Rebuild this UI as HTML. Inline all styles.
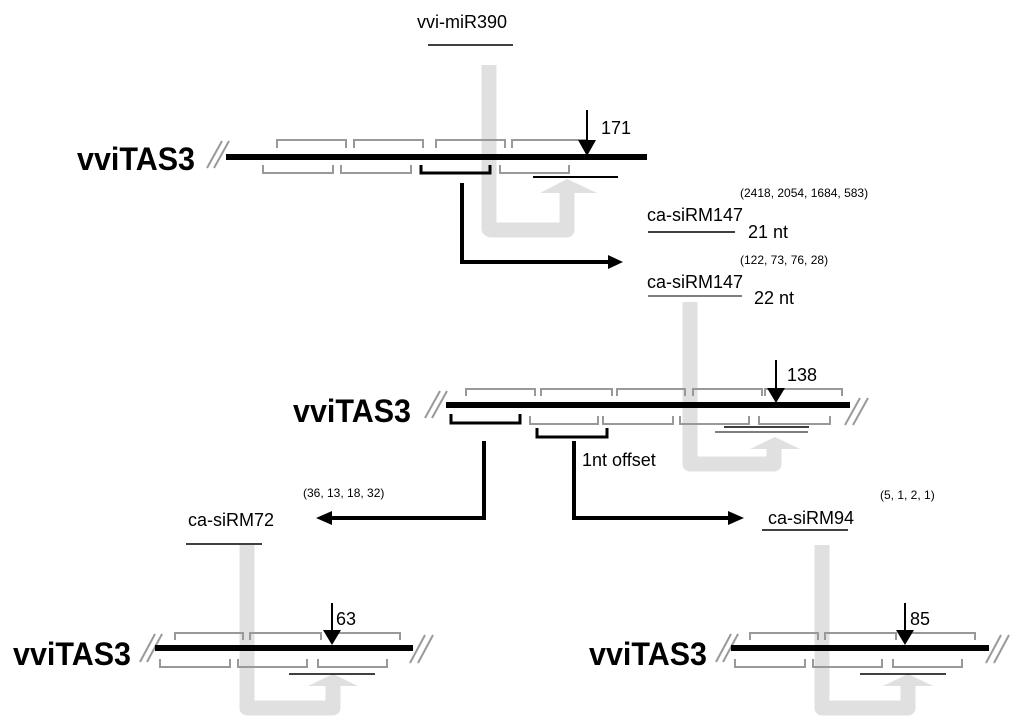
<!DOCTYPE html>
<html><head><meta charset="utf-8"><style>
html,body{margin:0;padding:0;background:#fff;}
svg{display:block;}
text{font-family:"Liberation Sans",sans-serif;fill:#000;}
</style></head><body>
<svg width="1024" height="728" viewBox="0 0 1024 728" xmlns="http://www.w3.org/2000/svg">
<defs>
<g id="dummy"></g>
</defs>
<!-- grey thick arrows -->
<g fill="none" stroke="#e0e0e0" stroke-width="15" stroke-linejoin="round">
<path d="M489 65 V228 Q489 230 492 230 H567 V190"/>
<path d="M690 302 V464 H774 V448"/>
<path d="M247 545 V708 H333 V685"/>
<path d="M822 545 V708 H908 V685"/>
</g>
<g fill="#e0e0e0">
<polygon points="540,193 597,193 567,179"/>
<polygon points="750,449 800,449 775,437"/>
<polygon points="308,686 358,686 333,674"/>
<polygon points="883,686 933,686 908,674"/>
</g>

<!-- TOP -->
<text x="77" y="170" font-size="32" font-weight="bold" textLength="118" lengthAdjust="spacingAndGlyphs">vviTAS3</text>
<g stroke="#999" stroke-width="2"><line x1="207" y1="168" x2="222" y2="141"/><line x1="214" y1="168" x2="229" y2="141"/></g>
<g fill="none" stroke="#999" stroke-width="2">
<path d="M277 148 V140 H346 V148"/><path d="M354 148 V140 H423 V148"/><path d="M436 148 V140 H505 V148"/><path d="M512 148 V140 H586 V148"/>
<path d="M263 165 V173 H333 V165"/><path d="M341 165 V173 H411 V165"/><path d="M500 165 V173 H569 V165"/>
</g>
<path d="M421 165 V173 H490 V165" fill="none" stroke="#000" stroke-width="3"/>
<line x1="226" y1="157" x2="647" y2="157" stroke="#000" stroke-width="6"/>
<line x1="587" y1="110" x2="587" y2="142" stroke="#000" stroke-width="2"/>
<polygon points="578,140 596,140 587,156" fill="#000"/>
<text x="601" y="134" font-size="18">171</text>
<line x1="533" y1="177" x2="618" y2="177" stroke="#000" stroke-width="2"/>
<text x="417" y="28" font-size="18">vvi-miR390</text>
<line x1="428" y1="45" x2="513" y2="45" stroke="#000" stroke-width="1.5"/>
<path d="M462 183 V262 H610" fill="none" stroke="#000" stroke-width="4"/>
<polygon points="608,255 623,262 608,269" fill="#000"/>

<text x="647" y="221" font-size="18">ca-siRM147</text>
<text x="740" y="197" font-size="12">(2418, 2054, 1684, 583)</text>
<line x1="648" y1="232" x2="735" y2="232" stroke="#000" stroke-width="1.5"/>
<text x="748" y="238" font-size="18">21 nt</text>
<text x="647" y="288" font-size="18">ca-siRM147</text>
<text x="740" y="264" font-size="12">(122, 73, 76, 28)</text>
<line x1="648" y1="296" x2="742" y2="296" stroke="#555" stroke-width="1.5"/>
<text x="754" y="304" font-size="18">22 nt</text>

<!-- MIDDLE -->
<text x="293" y="422" font-size="32" font-weight="bold" textLength="118" lengthAdjust="spacingAndGlyphs">vviTAS3</text>
<g stroke="#999" stroke-width="2">
<line x1="425" y1="418" x2="440" y2="391"/><line x1="432" y1="418" x2="447" y2="391"/>
<line x1="845" y1="425" x2="860" y2="398"/><line x1="853" y1="425" x2="868" y2="398"/>
</g>
<g fill="none" stroke="#999" stroke-width="2">
<path d="M466 396 V389 H535 V396"/><path d="M541 396 V389 H612 V396"/><path d="M617 396 V389 H685 V396"/><path d="M693 396 V389 H762 V396"/><path d="M765 396 V389 H842 V396"/>
<path d="M530 416 V424 H598 V416"/><path d="M603 416 V424 H673 V416"/><path d="M680 416 V424 H749 V416"/><path d="M759 416 V424 H830 V416"/>
</g>
<path d="M451 414 V423 H520 V414" fill="none" stroke="#000" stroke-width="3"/>
<path d="M537 428 V437 H607 V428" fill="none" stroke="#000" stroke-width="3"/>
<line x1="446" y1="405" x2="850" y2="405" stroke="#000" stroke-width="6"/>
<line x1="776" y1="360" x2="776" y2="390" stroke="#000" stroke-width="2"/>
<polygon points="767,388 785,388 776,403" fill="#000"/>
<text x="787" y="381" font-size="18">138</text>
<line x1="724" y1="427" x2="809" y2="427" stroke="#000" stroke-width="1.5"/>
<line x1="715" y1="432" x2="808" y2="432" stroke="#555" stroke-width="1.5"/>
<text x="582" y="466" font-size="18">1nt offset</text>
<path d="M484 441 V518 H330" fill="none" stroke="#000" stroke-width="4"/>
<polygon points="332,511 316,518 332,525" fill="#000"/>
<path d="M574 441 V518 H730" fill="none" stroke="#000" stroke-width="4"/>
<polygon points="728,511 744,518 728,525" fill="#000"/>

<text x="188" y="526" font-size="18">ca-siRM72</text>
<text x="303" y="497" font-size="12">(36, 13, 18, 32)</text>
<line x1="186" y1="544" x2="262" y2="544" stroke="#000" stroke-width="1.5"/>
<text x="768" y="524" font-size="18">ca-siRM94</text>
<text x="880" y="499" font-size="12">(5, 1, 2, 1)</text>
<line x1="762" y1="530" x2="848" y2="530" stroke="#000" stroke-width="1.5"/>

<!-- BOTTOM LEFT -->
<text x="13" y="665" font-size="32" font-weight="bold" textLength="118" lengthAdjust="spacingAndGlyphs">vviTAS3</text>
<g stroke="#999" stroke-width="2">
<line x1="140" y1="662" x2="155" y2="634"/><line x1="147" y1="662" x2="162" y2="634"/>
<line x1="410" y1="663" x2="425" y2="635"/><line x1="418" y1="663" x2="433" y2="635"/>
</g>
<g fill="none" stroke="#999" stroke-width="2">
<path d="M175 640 V633 H243 V640"/><path d="M250 640 V633 H321 V640"/><path d="M332 640 V633 H400 V640"/>
<path d="M160 659 V667 H230 V659"/><path d="M238 659 V667 H307 V659"/><path d="M318 659 V667 H387 V659"/>
</g>
<line x1="155" y1="648" x2="413" y2="648" stroke="#000" stroke-width="6"/>
<line x1="332" y1="603" x2="332" y2="632" stroke="#000" stroke-width="2"/>
<polygon points="323,630 341,630 332,645" fill="#000"/>
<text x="336" y="625" font-size="18">63</text>
<line x1="289" y1="674" x2="375" y2="674" stroke="#000" stroke-width="1.5"/>

<!-- BOTTOM RIGHT -->
<text x="589" y="665" font-size="32" font-weight="bold" textLength="118" lengthAdjust="spacingAndGlyphs">vviTAS3</text>
<g stroke="#999" stroke-width="2">
<line x1="716" y1="662" x2="731" y2="634"/><line x1="723" y1="662" x2="738" y2="634"/>
<line x1="986" y1="663" x2="1001" y2="635"/><line x1="994" y1="663" x2="1009" y2="635"/>
</g>
<g fill="none" stroke="#999" stroke-width="2">
<path d="M750 640 V633 H818 V640"/><path d="M825 640 V633 H896 V640"/><path d="M907 640 V633 H975 V640"/>
<path d="M735 659 V667 H805 V659"/><path d="M813 659 V667 H882 V659"/><path d="M893 659 V667 H962 V659"/>
</g>
<line x1="731" y1="648" x2="989" y2="648" stroke="#000" stroke-width="6"/>
<line x1="905" y1="603" x2="905" y2="632" stroke="#000" stroke-width="2"/>
<polygon points="896,630 914,630 905,645" fill="#000"/>
<text x="910" y="625" font-size="18">85</text>
<line x1="860" y1="674" x2="946" y2="674" stroke="#000" stroke-width="1.5"/>
</svg>
</body></html>
